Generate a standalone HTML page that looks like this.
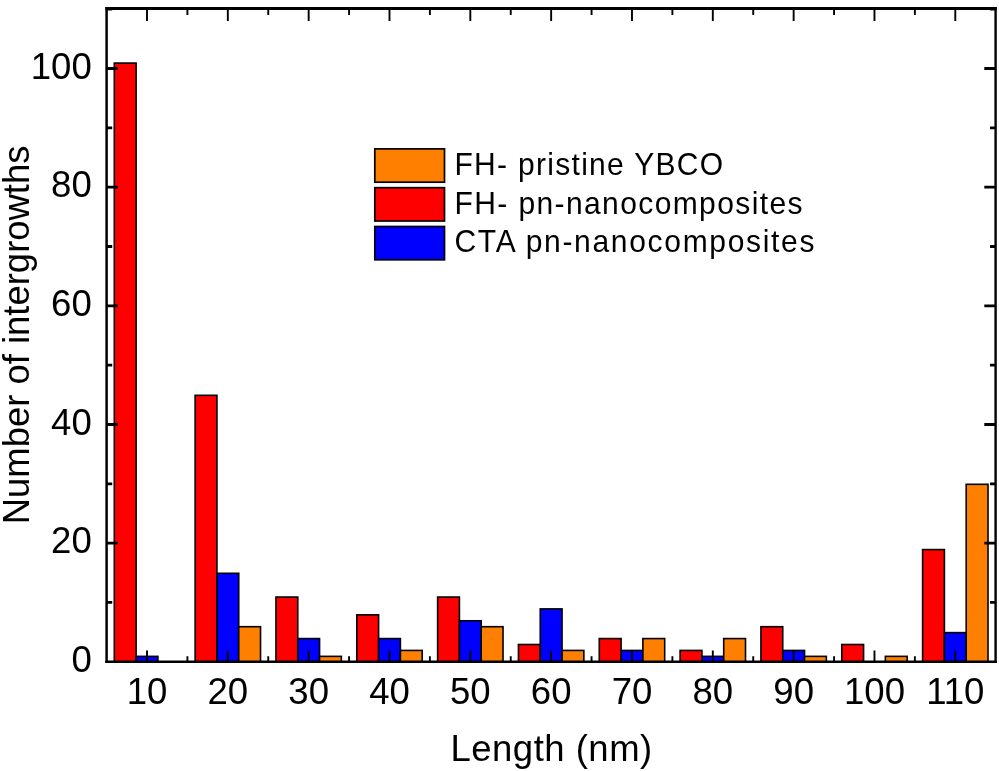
<!DOCTYPE html>
<html><head><meta charset="utf-8"><title>chart</title>
<style>html,body{margin:0;padding:0;background:#fff}svg{display:block;will-change:transform}text{font-family:"Liberation Sans",sans-serif;fill:#000}</style></head>
<body>
<svg width="999" height="771" viewBox="0 0 999 771">
<rect x="0" y="0" width="999" height="771" fill="#fff"/>
<g stroke="#000" stroke-width="1.6" stroke-linejoin="miter">
<rect x="114.30" y="63.07" width="21.80" height="598.73" fill="#ff0000"/>
<rect x="136.10" y="656.37" width="21.80" height="5.43" fill="#0000ff"/>
<rect x="195.13" y="395.31" width="21.80" height="266.49" fill="#ff0000"/>
<rect x="216.93" y="573.30" width="21.80" height="88.50" fill="#0000ff"/>
<rect x="238.73" y="626.70" width="21.80" height="35.10" fill="#ff8000"/>
<rect x="275.96" y="597.04" width="21.80" height="64.76" fill="#ff0000"/>
<rect x="297.76" y="638.57" width="21.80" height="23.23" fill="#0000ff"/>
<rect x="319.56" y="656.37" width="21.80" height="5.43" fill="#ff8000"/>
<rect x="356.79" y="614.84" width="21.80" height="46.96" fill="#ff0000"/>
<rect x="378.59" y="638.57" width="21.80" height="23.23" fill="#0000ff"/>
<rect x="400.39" y="650.43" width="21.80" height="11.37" fill="#ff8000"/>
<rect x="437.62" y="597.04" width="21.80" height="64.76" fill="#ff0000"/>
<rect x="459.42" y="620.77" width="21.80" height="41.03" fill="#0000ff"/>
<rect x="481.22" y="626.70" width="21.80" height="35.10" fill="#ff8000"/>
<rect x="518.45" y="644.50" width="21.80" height="17.30" fill="#ff0000"/>
<rect x="540.25" y="608.90" width="21.80" height="52.90" fill="#0000ff"/>
<rect x="562.05" y="650.43" width="21.80" height="11.37" fill="#ff8000"/>
<rect x="599.28" y="638.57" width="21.80" height="23.23" fill="#ff0000"/>
<rect x="621.08" y="650.43" width="21.80" height="11.37" fill="#0000ff"/>
<rect x="642.88" y="638.57" width="21.80" height="23.23" fill="#ff8000"/>
<rect x="680.11" y="650.43" width="21.80" height="11.37" fill="#ff0000"/>
<rect x="701.91" y="656.37" width="21.80" height="5.43" fill="#0000ff"/>
<rect x="723.71" y="638.57" width="21.80" height="23.23" fill="#ff8000"/>
<rect x="760.94" y="626.70" width="21.80" height="35.10" fill="#ff0000"/>
<rect x="782.74" y="650.43" width="21.80" height="11.37" fill="#0000ff"/>
<rect x="804.54" y="656.37" width="21.80" height="5.43" fill="#ff8000"/>
<rect x="841.77" y="644.50" width="21.80" height="17.30" fill="#ff0000"/>
<rect x="885.37" y="656.37" width="21.80" height="5.43" fill="#ff8000"/>
<rect x="922.60" y="549.57" width="21.80" height="112.23" fill="#ff0000"/>
<rect x="944.40" y="632.63" width="21.80" height="29.16" fill="#0000ff"/>
<rect x="966.20" y="484.31" width="21.80" height="177.49" fill="#ff8000"/>
</g>
<g stroke="#000" fill="none"><path d="M105.35 8.6H996.8000000000001" stroke-width="3.0"/><path d="M106.6 7.1V663.0999999999999" stroke-width="2.5"/><path d="M995.6 7.1V663.0999999999999" stroke-width="2.4"/><path d="M105.35 661.8H996.8000000000001" stroke-width="2.6"/></g>
<g stroke="#000" stroke-width="1.9" fill="none">
<path d="M147.00 8.6 v12.4 M147.00 661.8 v-11.3"/>
<path d="M227.83 8.6 v12.4 M227.83 661.8 v-11.3"/>
<path d="M308.66 8.6 v12.4 M308.66 661.8 v-11.3"/>
<path d="M389.49 8.6 v12.4 M389.49 661.8 v-11.3"/>
<path d="M470.32 8.6 v12.4 M470.32 661.8 v-11.3"/>
<path d="M551.15 8.6 v12.4 M551.15 661.8 v-11.3"/>
<path d="M631.98 8.6 v12.4 M631.98 661.8 v-11.3"/>
<path d="M712.81 8.6 v12.4 M712.81 661.8 v-11.3"/>
<path d="M793.64 8.6 v12.4 M793.64 661.8 v-11.3"/>
<path d="M874.47 8.6 v12.4 M874.47 661.8 v-11.3"/>
<path d="M955.30 8.6 v12.4 M955.30 661.8 v-11.3"/>
<path d="M187.41 8.6 v6.4 M187.41 661.8 v-5.6"/>
<path d="M268.25 8.6 v6.4 M268.25 661.8 v-5.6"/>
<path d="M349.07 8.6 v6.4 M349.07 661.8 v-5.6"/>
<path d="M429.90 8.6 v6.4 M429.90 661.8 v-5.6"/>
<path d="M510.74 8.6 v6.4 M510.74 661.8 v-5.6"/>
<path d="M591.56 8.6 v6.4 M591.56 661.8 v-5.6"/>
<path d="M672.39 8.6 v6.4 M672.39 661.8 v-5.6"/>
<path d="M753.23 8.6 v6.4 M753.23 661.8 v-5.6"/>
<path d="M834.06 8.6 v6.4 M834.06 661.8 v-5.6"/>
<path d="M914.88 8.6 v6.4 M914.88 661.8 v-5.6"/>
</g><g stroke="#000" stroke-width="2.8" fill="none">
<path d="M106.6 543.14 h11.3 M995.6 543.14 h-11.3"/>
<path d="M106.6 424.48 h11.3 M995.6 424.48 h-11.3"/>
<path d="M106.6 305.82 h11.3 M995.6 305.82 h-11.3"/>
<path d="M106.6 187.16 h11.3 M995.6 187.16 h-11.3"/>
<path d="M106.6 68.50 h11.3 M995.6 68.50 h-11.3"/>
<path d="M106.6 602.47 h5.6 M995.6 602.47 h-5.6"/>
<path d="M106.6 483.81 h5.6 M995.6 483.81 h-5.6"/>
<path d="M106.6 365.15 h5.6 M995.6 365.15 h-5.6"/>
<path d="M106.6 246.49 h5.6 M995.6 246.49 h-5.6"/>
<path d="M106.6 127.83 h5.6 M995.6 127.83 h-5.6"/>
<path d="M106.6 9.17 h5.6 M995.6 9.17 h-5.6"/>
</g>
<g font-size="36.6">
<text transform="translate(147.00,704.0) scale(1,1.035)" text-anchor="middle">10</text>
<text transform="translate(227.83,704.0) scale(1,1.035)" text-anchor="middle">20</text>
<text transform="translate(308.66,704.0) scale(1,1.035)" text-anchor="middle">30</text>
<text transform="translate(389.49,704.0) scale(1,1.035)" text-anchor="middle">40</text>
<text transform="translate(470.32,704.0) scale(1,1.035)" text-anchor="middle">50</text>
<text transform="translate(551.15,704.0) scale(1,1.035)" text-anchor="middle">60</text>
<text transform="translate(631.98,704.0) scale(1,1.035)" text-anchor="middle">70</text>
<text transform="translate(712.81,704.0) scale(1,1.035)" text-anchor="middle">80</text>
<text transform="translate(793.64,704.0) scale(1,1.035)" text-anchor="middle">90</text>
<text transform="translate(874.47,704.0) scale(1,1.035)" text-anchor="middle">100</text>
<text transform="translate(955.30,704.0) scale(1,1.035)" text-anchor="middle">110</text>
<text transform="translate(91.8,672.10) scale(1,1.035)" text-anchor="end">0</text>
<text transform="translate(91.8,553.44) scale(1,1.035)" text-anchor="end">20</text>
<text transform="translate(91.8,434.78) scale(1,1.035)" text-anchor="end">40</text>
<text transform="translate(91.8,316.12) scale(1,1.035)" text-anchor="end">60</text>
<text transform="translate(91.8,197.46) scale(1,1.035)" text-anchor="end">80</text>
<text transform="translate(91.8,78.80) scale(1,1.035)" text-anchor="end">100</text>
</g>
<text x="551.6" y="761.3" font-size="36.5" letter-spacing="0.5" text-anchor="middle">Length (nm)</text>
<text transform="translate(29.2,334.9) rotate(-90)" font-size="36.45" text-anchor="middle">Number of intergrowths</text>
<g stroke="#000" stroke-width="1.7">
<rect x="374.8" y="148.90" width="69.7" height="33.3" fill="#ff8000"/>
<rect x="374.8" y="187.70" width="69.7" height="33.3" fill="#ff0000"/>
<rect x="374.8" y="226.50" width="69.7" height="33.3" fill="#0000ff"/>
</g>
<g font-size="30">
<text transform="translate(454.5,174.70) scale(1,1.05)" letter-spacing="1.3">FH- pristine YBCO</text>
<text transform="translate(454.5,213.50) scale(1,1.05)" letter-spacing="1.4">FH- pn-nanocomposites</text>
<text transform="translate(454.5,252.30) scale(1,1.05)" letter-spacing="1.69">CTA pn-nanocomposites</text>
</g>
</svg>
</body></html>
